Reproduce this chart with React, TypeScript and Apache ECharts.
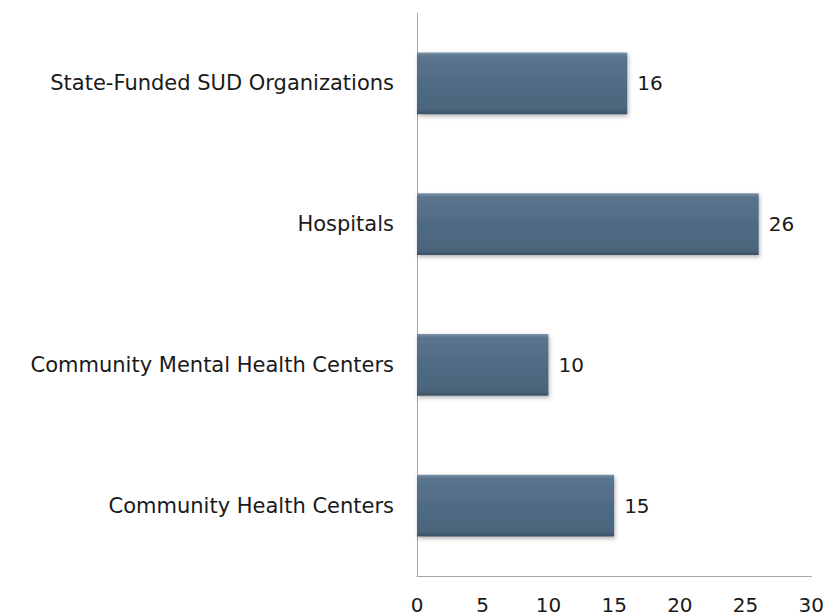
import React, { useEffect, useRef } from "react";
import * as echarts from "echarts";

const categories = [
  "Community Health Centers",
  "Community Mental Health Centers",
  "Hospitals",
  "State-Funded SUD Organizations",
];
const values = [15, 10, 26, 16];
const xTicks = { min: 0, max: 30, interval: 5 };

const FONT = "'DejaVu Sans', sans-serif";

export default function App() {
  const ref = useRef<HTMLDivElement>(null);
  useEffect(() => {
    document.body.style.margin = "0";
    if (!ref.current) return;
    const chart = echarts.init(ref.current, undefined, { renderer: "svg" });
    chart.setOption({
      animation: false,
      grid: { left: 417, right: 14, top: 13, bottom: 40, containLabel: false },
      xAxis: {
        type: "value",
        min: xTicks.min,
        max: xTicks.max,
        interval: xTicks.interval,
        axisLine: { show: true, lineStyle: { color: "#a6a6a6", width: 1 } },
        axisTick: { show: false },
        splitLine: { show: false },
        axisLabel: { color: "#1a1a1a", fontSize: 20, fontFamily: FONT, margin: 19 },
      },
      yAxis: {
        type: "category",
        data: categories,
        axisLine: { show: true, lineStyle: { color: "#a6a6a6", width: 1 } },
        axisTick: { show: false },
        axisLabel: { color: "#1a1a1a", fontSize: 21, fontFamily: FONT, margin: 23 },
      },
      series: [
        {
          type: "bar",
          data: values,
          barCategoryGap: "56%",
          itemStyle: {
            color: new echarts.graphic.LinearGradient(0, 0, 0, 1, [
              { offset: 0, color: "#7d95aa" },
              { offset: 0.06, color: "#5a758d" },
              { offset: 0.5, color: "#4f6b83" },
              { offset: 0.92, color: "#4a657c" },
              { offset: 1, color: "#3b5064" },
            ]),
            shadowColor: "rgba(0,0,0,0.3)",
            shadowBlur: 4,
            shadowOffsetX: 1,
            shadowOffsetY: 2,
          },
          label: {
            show: true,
            position: "right",
            distance: 10,
            color: "#1a1a1a",
            fontSize: 20,
            fontFamily: FONT,
          },
        },
      ],
    });
    return () => chart.dispose();
  }, []);
  return <div ref={ref} style={{ width: 827, height: 616 }} />;
}
